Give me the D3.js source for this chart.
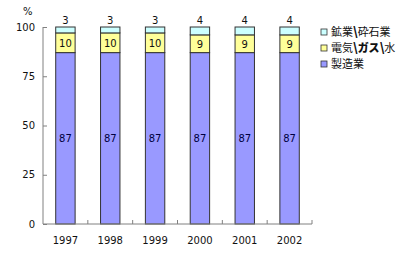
<!DOCTYPE html>
<html>
<head>
<meta charset="utf-8">
<script src="https://cdn.jsdelivr.net/npm/d3@7"></script>
<style>
  body { margin: 0; background: #fff; }
  text { font-family: "DejaVu Sans", sans-serif; font-size: 10px; fill: #111; }
  .cjk { font-family: "Noto Sans CJK JP", sans-serif; font-size: 11px; }
</style>
</head>
<body>
<svg id="chart" width="410" height="268"></svg>
<script>
const years = ["1997", "1998", "1999", "2000", "2001", "2002"];
const seriesNames = ["製造業", "電気\\ガス\\水", "鉱業\\砕石業"];
const manufacturing = [87, 87, 87, 87, 87, 87];
const utilities = [10, 10, 10, 9, 9, 9];
const mining = [3, 3, 3, 4, 4, 4];
const yTicks = [0, 25, 50, 75, 100];
const colors = ["#9999ff", "#ffff99", "#ccffff"];

const svg = d3.select("#chart");
const margin = { left: 43, right: 98, top: 27, bottom: 44 };
const width = 410 - margin.left - margin.right;
const height = 268 - margin.top - margin.bottom;
const g = svg.append("g").attr("transform", `translate(${margin.left},${margin.top})`);

const table = years.map((y, i) => ({
  year: y, s0: manufacturing[i], s1: utilities[i], s2: mining[i]
}));
const stacked = d3.stack().keys(["s0", "s1", "s2"])(table);

const xb = d3.scaleBand().domain(years).range([0, width]);
const y = d3.scaleLinear().domain([0, 100]).range([height, 0]);
const barW = 19.4;

// bars
stacked.forEach((layer, li) => {
  g.selectAll(null)
    .data(layer)
    .enter()
    .append("rect")
    .attr("x", (d) => xb(d.data.year) + xb.bandwidth() / 2 - barW / 2)
    .attr("width", barW)
    .attr("y", (d) => y(d[1]))
    .attr("height", (d) => y(d[0]) - y(d[1]))
    .style("fill", colors[li])
    .style("stroke", "#333")
    .style("stroke-width", 1);
});

// value labels
stacked.forEach((layer, li) => {
  g.selectAll(null)
    .data(layer)
    .enter()
    .append("text")
    .attr("x", (d) => xb(d.data.year) + xb.bandwidth() / 2)
    .attr("y", (d) => li === 2 ? y(d[1]) - 3 : y((d[0] + d[1]) / 2) + 4)
    .attr("text-anchor", "middle")
    .style("fill", li === 0 ? "#000040" : "#111")
    .text((d) => d[1] - d[0]);
});

// y axis
const yAxis = g.append("g").call(d3.axisLeft(y).tickValues(yTicks).tickSize(-4).tickPadding(8));
yAxis.select(".domain").attr("stroke", "#808080").attr("d", `M0,0V${height}`);
yAxis.selectAll(".tick line").attr("stroke", "#808080");
yAxis.selectAll("text").style("font-size", "10px").style("font-family", "DejaVu Sans").style("fill", "#111");

// x axis with boundary ticks
const xAxisG = g.append("g").attr("transform", `translate(0,${height})`);
xAxisG.append("line").attr("x1", 0).attr("x2", width).attr("stroke", "#808080");
xAxisG.selectAll(null)
  .data(years)
  .enter()
  .append("line")
  .attr("x1", (d) => xb(d) + xb.bandwidth())
  .attr("x2", (d) => xb(d) + xb.bandwidth())
  .attr("y1", 0).attr("y2", -4)
  .attr("stroke", "#808080");
xAxisG.selectAll(null)
  .data(years)
  .enter()
  .append("text")
  .attr("x", (d) => xb(d) + xb.bandwidth() / 2)
  .attr("y", 20)
  .attr("text-anchor", "middle")
  .text((d) => d);

svg.append("text").attr("x", 23).attr("y", 15).text("%");

// legend
const legend = svg.append("g").attr("transform", "translate(321,0)");
const legendOrder = [2, 1, 0];
legendOrder.forEach((si, i) => {
  const ly = 32 + i * 16;
  legend.append("rect")
    .attr("x", 0).attr("y", ly - 3).attr("width", 6).attr("height", 6)
    .style("fill", colors[si]).style("stroke", "#333").style("stroke-width", 0.8);
  const t = legend.append("text")
    .attr("class", "cjk")
    .attr("x", 10).attr("y", ly + 4);
  // split on the separator so it and the katakana can be drawn heavier
  seriesNames[si].split(/(\\|ガス)/).forEach((part) => {
    if (!part) return;
    const heavy = part === "\\" || part === "ガス";
    t.append("tspan")
      .style("font-weight", heavy ? "900" : "normal")
      .style("font-size", part === "\\" ? "12px" : null)
      .text(part);
  });
});
</script>
</body>
</html>
